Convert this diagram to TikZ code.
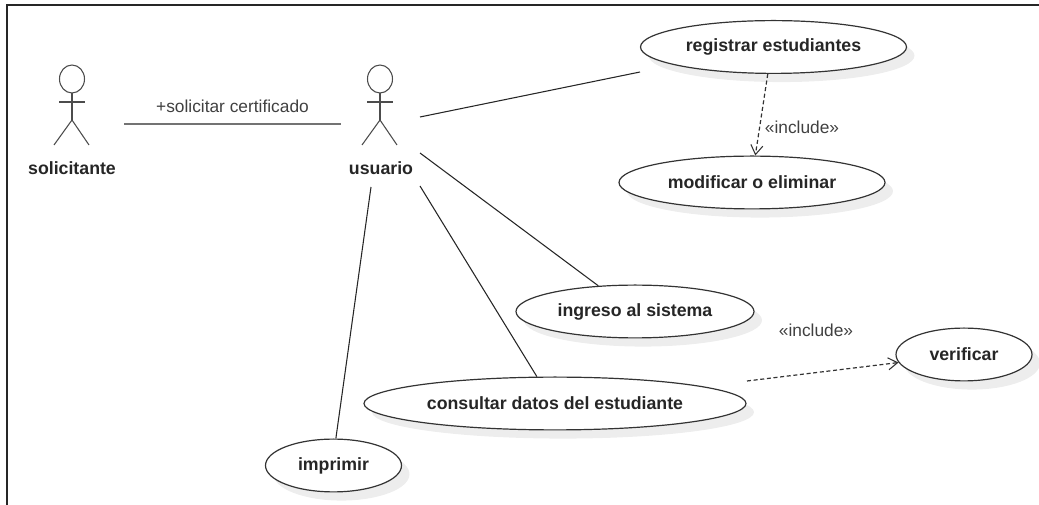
\documentclass[tikz,border=0pt]{standalone}
\usepackage{fontspec}
\setmainfont{Liberation Sans}
\usetikzlibrary{shapes.geometric,arrows.meta,shadows}
\tikzset{
  usecase/.style={ellipse,draw=black!80,line width=0.9pt,fill=white,inner sep=0pt,
    minimum height=39.6pt,font=\fontsize{13.3}{15}\selectfont\bfseries,text=black!85,
    general shadow={shadow xshift=6pt,shadow yshift=-6.5pt,fill=black!7,draw=none}},
  actorlabel/.style={inner sep=0pt,font=\fontsize{13.3}{15}\selectfont\bfseries,text=black!85},
  noteLabel/.style={inner sep=0pt,font=\fontsize{13}{15}\selectfont,text=black!75},
  actorline/.style={draw=black!70,line width=0.8pt},
  assoc/.style={draw=black!85,line width=0.8pt},
  thickassoc/.style={draw=black!55,line width=1.7pt},
  incl/.style={draw=black!80,line width=0.9pt,dashed,dash pattern=on 3pt off 2pt,
    -{Straight Barb[length=7pt,width=9pt,line width=0.8pt]}},
}
\newcommand{\lowtxt}[1]{\raisebox{-1.5pt}{#1}}
\begin{document}
\begin{tikzpicture}[x=0.75pt,y=-0.75pt]
\useasboundingbox (0,0) rectangle (1039,505);
\draw[black!85,line width=1.2pt] (7,505) -- (7,5) -- (1039,5);

% use cases
\node[usecase,minimum width=199.5pt] (registrar) at (773.5,47) {\lowtxt{registrar estudiantes}};
\node[usecase,minimum width=199.5pt] (modificar) at (752,182.5) {\lowtxt{modificar o eliminar}};
\node[usecase,minimum width=178.5pt] (ingreso) at (635,311.5) {\lowtxt{ingreso al sistema}};
\node[usecase,minimum width=286.5pt] (consultar) at (555,403.5) {\lowtxt{consultar datos del estudiante}};
\node[usecase,minimum width=102pt] (imprimir) at (333.5,465.5) {\lowtxt{imprimir}};
\node[usecase,minimum width=102pt] (verificar) at (964,354.5) {\lowtxt{verificar}};

% actors
\foreach \n/\cx in {a/72,b/380}{
  \draw[actorline,fill=white] (\cx,79) ellipse [x radius=12.5,y radius=14];
  \draw[actorline] (\cx-13,102) -- (\cx+13,102);
  \draw[actorline] (\cx,93) -- (\cx,120);
  \draw[actorline] (\cx-18,145) -- (\cx,120) -- (\cx+17,145);
}
\node[actorlabel] (solicitante) at (72,168.5) {solicitante};
\node[actorlabel] (usuario) at (381,168.5) {usuario};

% connector end points
\coordinate (solR) at (124,124);
\coordinate (usuL) at (341,124);
\coordinate (usu1) at (420,117);
\coordinate (usu2) at (420,153);
\coordinate (usu3) at (420,186);
\coordinate (usu4) at (371,187);
\coordinate (regEnd) at (640,72);
\coordinate (conEnd) at (747,381);

% connectors
\draw[thickassoc] (solR) -- (usuL) node[midway,noteLabel,yshift=13.5pt] (lblcert) {+solicitar certificado};
\draw[assoc] (usu1) -- (regEnd);
\draw[assoc] (usu2) -- (ingreso.145);
\draw[assoc] (usu3) -- (consultar.124);
\draw[assoc] (usu4) -- (imprimir.85);
\draw[incl] (registrar.258) -- (modificar.83);
\draw[incl] (conEnd) -- (verificar.187);

\node[noteLabel] (incA) at (802,127) {«include»};
\node[noteLabel] (incB) at (816,330) {«include»};
\end{tikzpicture}
\end{document}
